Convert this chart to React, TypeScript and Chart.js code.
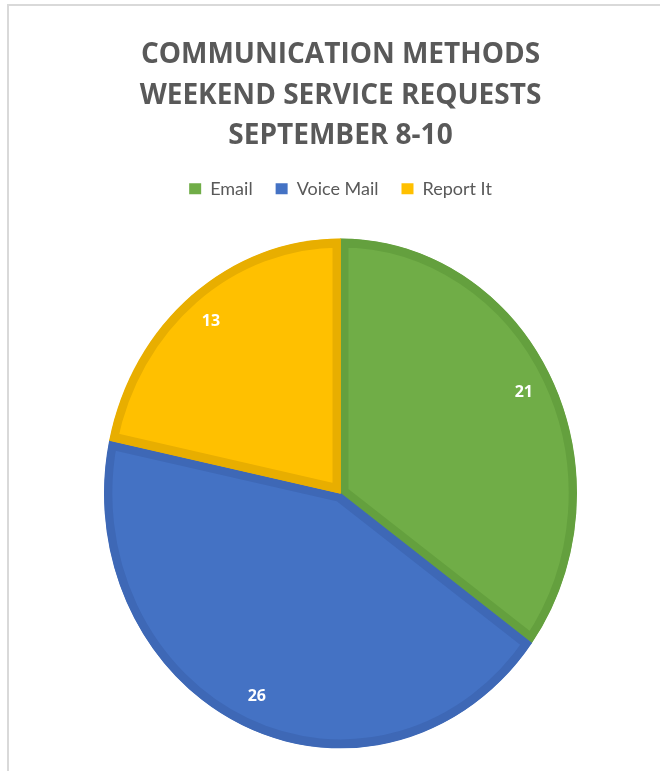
import React, { useEffect, useRef } from "react";
import { Chart, registerables } from "chart.js";

Chart.register(...registerables);

const categories = ["Email", "Voice Mail", "Report It"];
const requestCounts = [21, 26, 13];
const sliceColors = ["#70AD47", "#4472C4", "#FFC000"];
const sliceBorderColors = ["#64A03E", "#3E68B6", "#E8AE00"];
const titleLines = ["COMMUNICATION METHODS", "WEEKEND SERVICE REQUESTS", "SEPTEMBER 8-10"];

const Y_STRETCH = 1.078;
const LABEL_RADIUS = 0.87;

const stretchPlugin = {
  id: "stretchPie",
  beforeDatasetsDraw(chart: any) {
    const meta = chart.getDatasetMeta(0);
    const arc = meta.data[0];
    if (!arc) return;
    const ctx = chart.ctx;
    ctx.save();
    ctx.translate(arc.x, arc.y);
    ctx.scale(1, Y_STRETCH);
    ctx.translate(-arc.x, -arc.y);
  },
  afterDatasetsDraw(chart: any) {
    const ctx = chart.ctx;
    ctx.restore();
    const meta = chart.getDatasetMeta(0);
    const data = chart.data.datasets[0].data;
    ctx.save();
    ctx.fillStyle = "#FFFFFF";
    ctx.font = "bold 16px 'Open Sans'";
    ctx.textAlign = "center";
    ctx.textBaseline = "middle";
    meta.data.forEach((a: any, i: number) => {
      const p = a.getProps(["x", "y", "startAngle", "endAngle", "outerRadius"], true);
      const mid = (p.startAngle + p.endAngle) / 2;
      const r = p.outerRadius * LABEL_RADIUS;
      const x = p.x + Math.cos(mid) * r;
      const y = p.y + Math.sin(mid) * r * Y_STRETCH;
      ctx.fillText(String(data[i]), x, y);
    });
    ctx.restore();
  },
};

export default function App() {
  const ref = useRef<HTMLCanvasElement>(null);
  useEffect(() => {
    if (!ref.current) return;
    const chart = new Chart(ref.current, {
      type: "pie",
      data: {
        labels: categories,
        datasets: [
          {
            data: requestCounts,
            backgroundColor: sliceColors,
            borderColor: sliceBorderColors,
            borderWidth: 8,
            borderAlign: "inner",
            clip: false,
          } as any,
        ],
      },
      options: {
        animation: false,
        responsive: true,
        maintainAspectRatio: false,
        radius: 236.5,
        layout: { padding: { left: 21, right: 0, top: 0, bottom: 0 } },
        plugins: {
          title: {
            display: true,
            text: titleLines,
            color: "#595959",
            font: { family: "'Open Sans'", size: 28, weight: "bold", lineHeight: 1.45 },
            padding: { top: 35, bottom: 0 },
          },
          legend: {
            display: true,
            position: "top",
            labels: {
              boxWidth: 12,
              boxHeight: 11,
              padding: 23,
              color: "#595959",
              font: { family: "Lato", size: 18 },
              generateLabels: (chart: any) =>
                chart.data.labels.map((label: string, i: number) => ({
                  text: label,
                  fillStyle: sliceColors[i],
                  strokeStyle: sliceColors[i],
                  lineWidth: 0,
                  fontColor: "#595959",
                  hidden: false,
                  index: i,
                })),
            },
          },
          tooltip: { enabled: false },
        },
      } as any,
      plugins: [stretchPlugin],
    });
    return () => chart.destroy();
  }, []);

  return (
    <div style={{ position: "fixed", left: 0, top: 0, width: 660, height: 771, background: "#fff", overflow: "hidden" }}>
      <div
        style={{
          position: "absolute",
          left: 7,
          top: 4,
          width: 700,
          height: 800,
          borderTop: "2px solid #D9D9D9",
          borderLeft: "2px solid #D9D9D9",
        }}
      />
      <div style={{ position: "absolute", left: 0, top: 0, width: 660, height: 779 }}>
        <canvas ref={ref} />
      </div>
    </div>
  );
}
